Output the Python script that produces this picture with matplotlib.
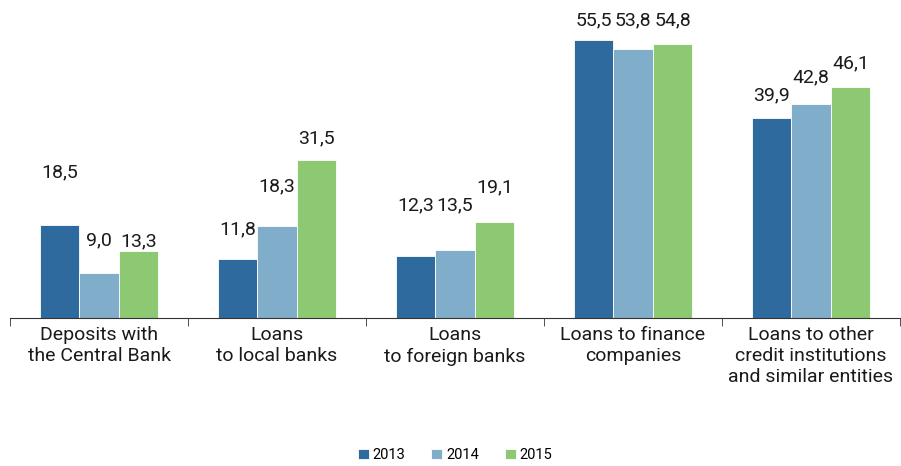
import numpy as np
import matplotlib.pyplot as plt
from matplotlib.ticker import FixedLocator

categories = ["Deposits with\nthe Central Bank", "Loans\nto local banks", "Loans\nto foreign banks",
              "Loans to finance\ncompanies", "Loans to other\ncredit institutions\nand similar entities"]
years = ["2013", "2014", "2015"]
v2013 = [18.5, 11.8, 12.3, 55.5, 39.9]
v2014 = [9.0, 18.3, 13.5, 53.8, 42.8]
v2015 = [13.3, 31.5, 19.1, 54.8, 46.1]
colors = ["#2F6A9F", "#80AECA", "#8CC972"]

# how far each value label sits above its bar (data units), as placed in the original
lift = [[10.6, 6.0, 10.1, 4.0, 4.6],
        [6.6, 8.0, 8.9, 5.7, 5.3],
        [2.1, 4.4, 7.0, 4.7, 4.8]]

plt.rcParams['font.family'] = ['Roboto', 'DejaVu Sans']

fig = plt.figure(figsize=(9.01, 4.66), dpi=100, facecolor='w')
ax = fig.add_axes([10/901, 148/466, 890/901, 318/466])

x = np.arange(len(categories))
w = 0.222
for i, (vals, yr) in enumerate(zip([v2013, v2014, v2015], years)):
    pos = x + (i - 1) * w
    ax.bar(pos, vals, w, color=colors[i], label=yr, edgecolor='white', linewidth=0.6)
    for p, v, d in zip(pos, vals, lift[i]):
        ax.text(p, v + d, f"{v:.1f}".replace(".", ","), ha='center', va='center',
                fontsize=14, color='#1a1a1a')

ax.set_xlim(-0.5, len(categories) - 0.5)
ax.set_ylim(0, 63.5)
for s in ['top', 'right', 'left']:
    ax.spines[s].set_visible(False)
ax.spines['bottom'].set_color('#333333')
ax.set_yticks([])
ax.set_xticks(x)
ax.set_xticklabels(categories, fontsize=14, color='#1a1a1a', linespacing=1.22)
ax.tick_params(axis='x', which='major', length=0, pad=6)
ax.xaxis.set_minor_locator(FixedLocator(np.arange(-0.5, len(categories), 1.0)))
ax.tick_params(axis='x', which='minor', length=6, color='#333333')

fig.legend(loc='center', bbox_to_anchor=(455/901, 1 - 455/466), ncol=3, frameon=False,
           fontsize=10.5, handlelength=0.75, handleheight=0.75, handletextpad=0.25, columnspacing=1.8)

plt.savefig("out.png", dpi=100)
